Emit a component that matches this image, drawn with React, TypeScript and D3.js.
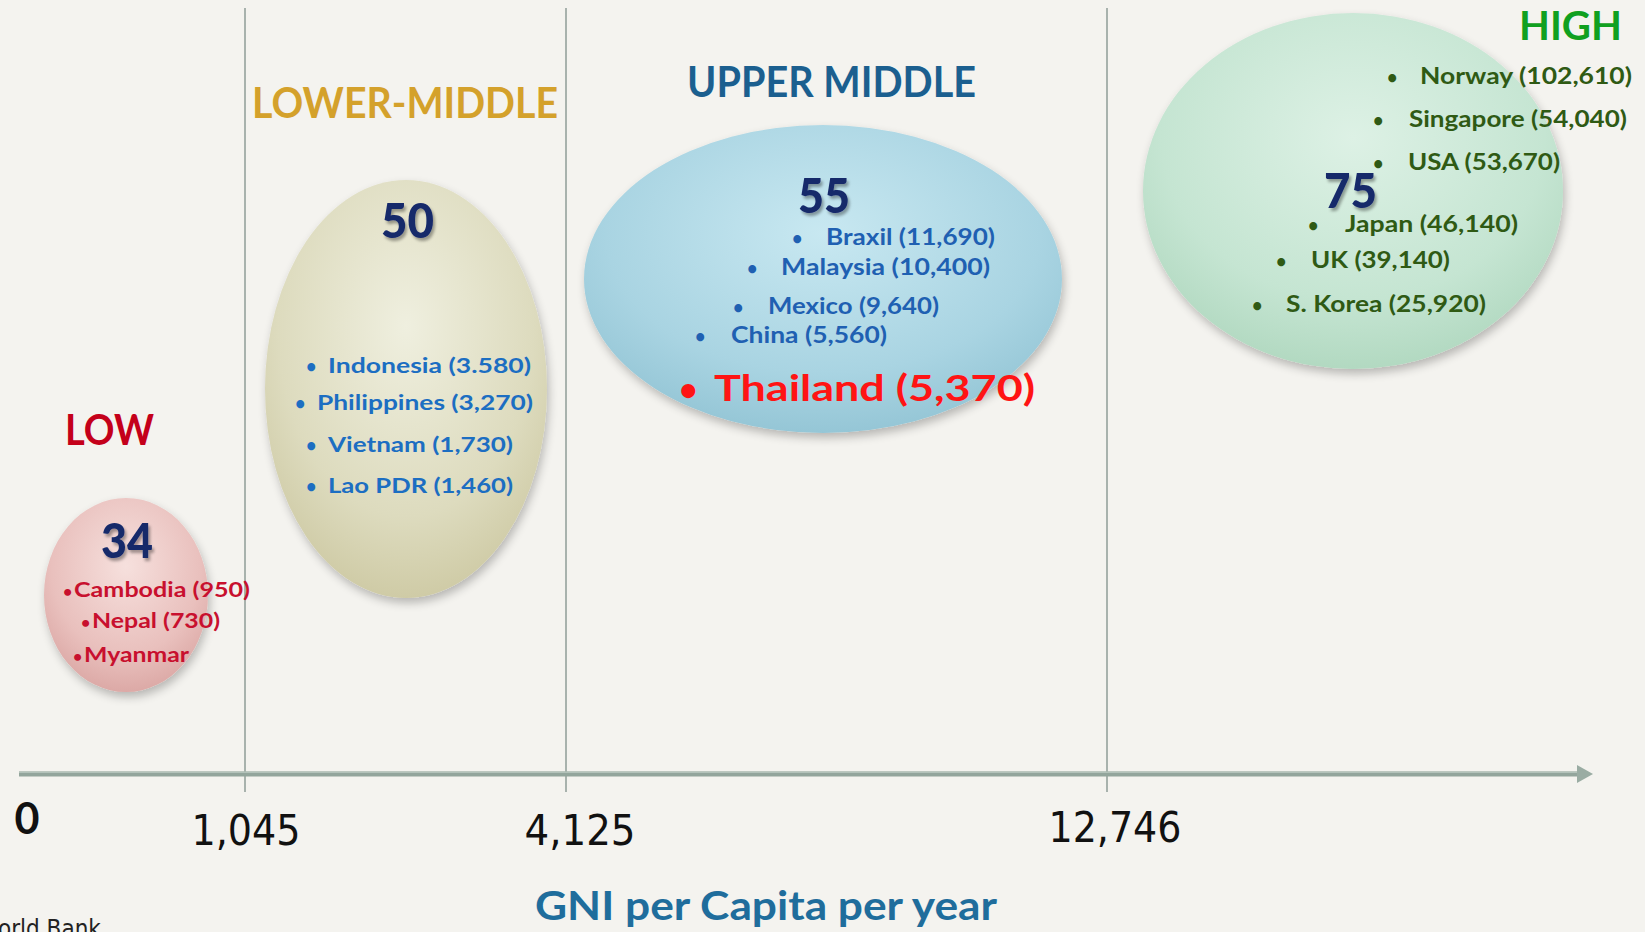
import React from "react";
import * as d3 from "d3";

// ---------- DATA ----------
const thresholds = [0, 1045, 4125, 12746];
const thresholdLabels = ["0", "1,045", "4,125", "12,746"];
const categories = ["LOW", "LOWER-MIDDLE", "UPPER MIDDLE", "HIGH"];
const countryCounts = [34, 50, 55, 75];
const lowCountries = ["Cambodia (950)", "Nepal (730)", "Myanmar"];
const lowerMiddleCountries = ["Indonesia (3.580)", "Philippines (3,270)", "Vietnam (1,730)", "Lao PDR (1,460)"];
const upperMiddleCountries = ["Braxil (11,690)", "Malaysia (10,400)", "Mexico (9,640)", "China (5,560)", "Thailand (5,370)"];
const highCountries = ["Norway (102,610)", "Singapore (54,040)", "USA (53,670)", "Japan (46,140)", "UK (39,140)", "S. Korea (25,920)"];
const axisTitle = "GNI per Capita per year";
const sourceText = "World Bank";

// ---------- LAYOUT / STYLE ----------
const W = 1645, H = 932;
const FONT = "Lato, 'Open Sans', sans-serif";
const NARROW = "'Liberation Sans Narrow', 'DejaVu Sans Condensed', sans-serif";

const x = d3.scaleLinear().domain(thresholds).range([27, 245, 566, 1107]);

const ellipses = [
  { cx: 126, cy: 595, rx: 82, ry: 97, base: "#e9c0bd", hi: "#f6e0dd", edge: "#dca9a6" },
  { cx: 406, cy: 389, rx: 141, ry: 209, base: "#dddbbe", hi: "#efefdf", edge: "#cfcba6" },
  { cx: 823, cy: 279, rx: 239, ry: 154, base: "#a9d4e2", hi: "#c8e8f1", edge: "#95c6d6" },
  { cx: 1353, cy: 191, rx: 210, ry: 178, base: "#c5e5d2", hi: "#ddf1e5", edge: "#b2d9c1" },
];
const catLabelStyle = [
  { x: 65, y: 445, len: 89, size: 42, color: "#c4001a" },
  { x: 252, y: 118, len: 306, size: 42, color: "#d4a12b" },
  { x: 687, y: 97, len: 289, size: 42, color: "#1b5f8f" },
  { x: 1519, y: 40, len: 103, size: 40, color: "#10a020" },
];
const countStyle = [
  { x: 101, y: 558, len: 52 },
  { x: 381, y: 238, len: 53 },
  { x: 798, y: 213, len: 52 },
  { x: 1324, y: 208, len: 53 },
];
type Row = { bx: number; tx: number; y: number; len: number };
const lowRows: Row[] = [
  { bx: 63, tx: 74, y: 597, len: 176 },
  { bx: 81, tx: 92, y: 628, len: 128 },
  { bx: 73, tx: 84, y: 662, len: 105 },
];
const lmRows: Row[] = [
  { bx: 306, tx: 328, y: 373, len: 203 },
  { bx: 295, tx: 317, y: 410, len: 216 },
  { bx: 306, tx: 328, y: 452, len: 185 },
  { bx: 306, tx: 328, y: 493, len: 185 },
];
const umRows: Row[] = [
  { bx: 792, tx: 826, y: 245, len: 169 },
  { bx: 747, tx: 781, y: 275, len: 209 },
  { bx: 733, tx: 768, y: 314, len: 171 },
  { bx: 695, tx: 731, y: 343, len: 156 },
  { bx: 679, tx: 714, y: 401, len: 321 },
];
const hiRows: Row[] = [
  { bx: 1387, tx: 1420, y: 84, len: 212 },
  { bx: 1373, tx: 1409, y: 127, len: 218 },
  { bx: 1373, tx: 1408, y: 170, len: 152 },
  { bx: 1308, tx: 1345, y: 232, len: 173 },
  { bx: 1276, tx: 1311, y: 268, len: 139 },
  { bx: 1252, tx: 1286, y: 312, len: 200 },
];
const tickLabelStyle = [
  { cx: 27, y: 834, len: 25, weight: 700 },
  { cx: 246, y: 845, len: 109, weight: 400 },
  { cx: 580, y: 845, len: 111, weight: 400 },
  { cx: 1115, y: 842, len: 133, weight: 400 },
];

function CountryList({ items, rows, color, size, bulletSize, weight = 700, special }:
  { items: string[]; rows: Row[]; color: string; size: number; bulletSize: number; weight?: number; special?: (i: number) => { color: string; size: number; bulletSize: number } | null }) {
  return (
    <g>
      {items.map((t, i) => {
        const r = rows[i];
        const sp = special ? special(i) : null;
        const c = sp ? sp.color : color;
        const s = sp ? sp.size : size;
        const bs = sp ? sp.bulletSize : bulletSize;
        return (
          <g key={t}>
            <text x={r.bx} y={r.y} fill={c} fontSize={bs} fontFamily={FONT} fontWeight={700}>•</text>
            <text x={r.tx} y={r.y} fill={c} fontSize={s} fontFamily={FONT} fontWeight={weight}
              textLength={r.len} lengthAdjust="spacingAndGlyphs">{t}</text>
          </g>
        );
      })}
    </g>
  );
}

export default function App() {
  const axisY = 774;
  const lineTop = 8;
  const lineBottom = 792;
  return (
    <svg width={W} height={H} viewBox={`0 0 ${W} ${H}`}
      style={{ position: "absolute", left: 0, top: 0, display: "block" }}>
      <defs>
        {ellipses.map((e, i) => (
          <radialGradient key={i} id={`g${i}`} cx="0.5" cy="0.35" r="0.65">
            <stop offset="0%" stopColor={e.hi} />
            <stop offset="70%" stopColor={e.base} />
            <stop offset="100%" stopColor={e.edge} />
          </radialGradient>
        ))}
        <filter id="shadow" x="-20%" y="-20%" width="140%" height="140%">
          <feGaussianBlur in="SourceAlpha" stdDeviation="5" />
          <feOffset dx="2" dy="5" result="b" />
          <feComponentTransfer><feFuncA type="linear" slope="0.25" /></feComponentTransfer>
          <feMerge><feMergeNode /><feMergeNode in="SourceGraphic" /></feMerge>
        </filter>
        <filter id="tshadow" x="-20%" y="-20%" width="140%" height="150%">
          <feGaussianBlur in="SourceAlpha" stdDeviation="1.5" />
          <feOffset dx="2" dy="3" />
          <feComponentTransfer><feFuncA type="linear" slope="0.35" /></feComponentTransfer>
          <feMerge><feMergeNode /><feMergeNode in="SourceGraphic" /></feMerge>
        </filter>
      </defs>
      <rect x={0} y={0} width={W} height={H} fill="#f4f3ef" />

      {/* vertical threshold lines */}
      {thresholds.slice(1).map((v) => (
        <line key={v} x1={x(v)} x2={x(v)} y1={lineTop} y2={lineBottom} stroke="#8f9c97" strokeWidth={1.5} />
      ))}

      {/* axis with arrow */}
      <rect x={19} y={axisY - 2.5} width={1562} height={5} fill="#93a59c" />
      <rect x={19} y={axisY - 2.5} width={1562} height={1.5} fill="#b3c2ba" />
      <path d={`M1577,${axisY - 9} L1593,${axisY} L1577,${axisY + 9} Z`} fill="#9aaca3" />

      {/* ellipses */}
      {ellipses.map((e, i) => (
        <ellipse key={i} cx={e.cx} cy={e.cy} rx={e.rx} ry={e.ry} fill={`url(#g${i})`} filter="url(#shadow)" />
      ))}

      {/* category labels */}
      {categories.map((c, i) => {
        const s = catLabelStyle[i];
        return (
          <text key={c} x={s.x} y={s.y} fill={s.color} fontSize={s.size} fontFamily={FONT} fontWeight={700}
            textLength={s.len} lengthAdjust="spacingAndGlyphs">{c}</text>
        );
      })}

      {/* counts */}
      {countryCounts.map((n, i) => {
        const s = countStyle[i];
        return (
          <text key={i} x={s.x} y={s.y} fill="#16296b" fontSize={47} fontFamily={FONT} fontWeight={900}
            textLength={s.len} lengthAdjust="spacingAndGlyphs" filter="url(#tshadow)">{n}</text>
        );
      })}

      <CountryList items={lowCountries} rows={lowRows} color="#c8102e" size={20} bulletSize={16} />
      <CountryList items={lowerMiddleCountries} rows={lmRows} color="#1c6ec2" size={21} bulletSize={18} />
      <CountryList items={upperMiddleCountries} rows={umRows} color="#1f60b2" size={22} bulletSize={18}
        special={(i) => (i === upperMiddleCountries.length - 1 ? { color: "#ff1414", size: 36, bulletSize: 32 } : null)} />
      <CountryList items={highCountries} rows={hiRows} color="#2f5a14" size={22} bulletSize={18} />

      {/* tick labels */}
      {thresholdLabels.map((t, i) => {
        const s = tickLabelStyle[i];
        return (
          <text key={t} x={s.cx} y={s.y} textAnchor="middle" fill="#111" fontSize={43}
            fontFamily={i === 0 ? FONT : NARROW} fontWeight={s.weight}
            textLength={s.len} lengthAdjust="spacingAndGlyphs">{t}</text>
        );
      })}

      {/* axis title */}
      <text x={535} y={920} fill="#1f6d9c" fontSize={41} fontFamily={FONT} fontWeight={700}
        textLength={462} lengthAdjust="spacingAndGlyphs">{axisTitle}</text>

      {/* source, cut off at left */}
      <text x={-22} y={937} fill="#222" fontSize={24} fontFamily={NARROW}>{sourceText}</text>
    </svg>
  );
}
